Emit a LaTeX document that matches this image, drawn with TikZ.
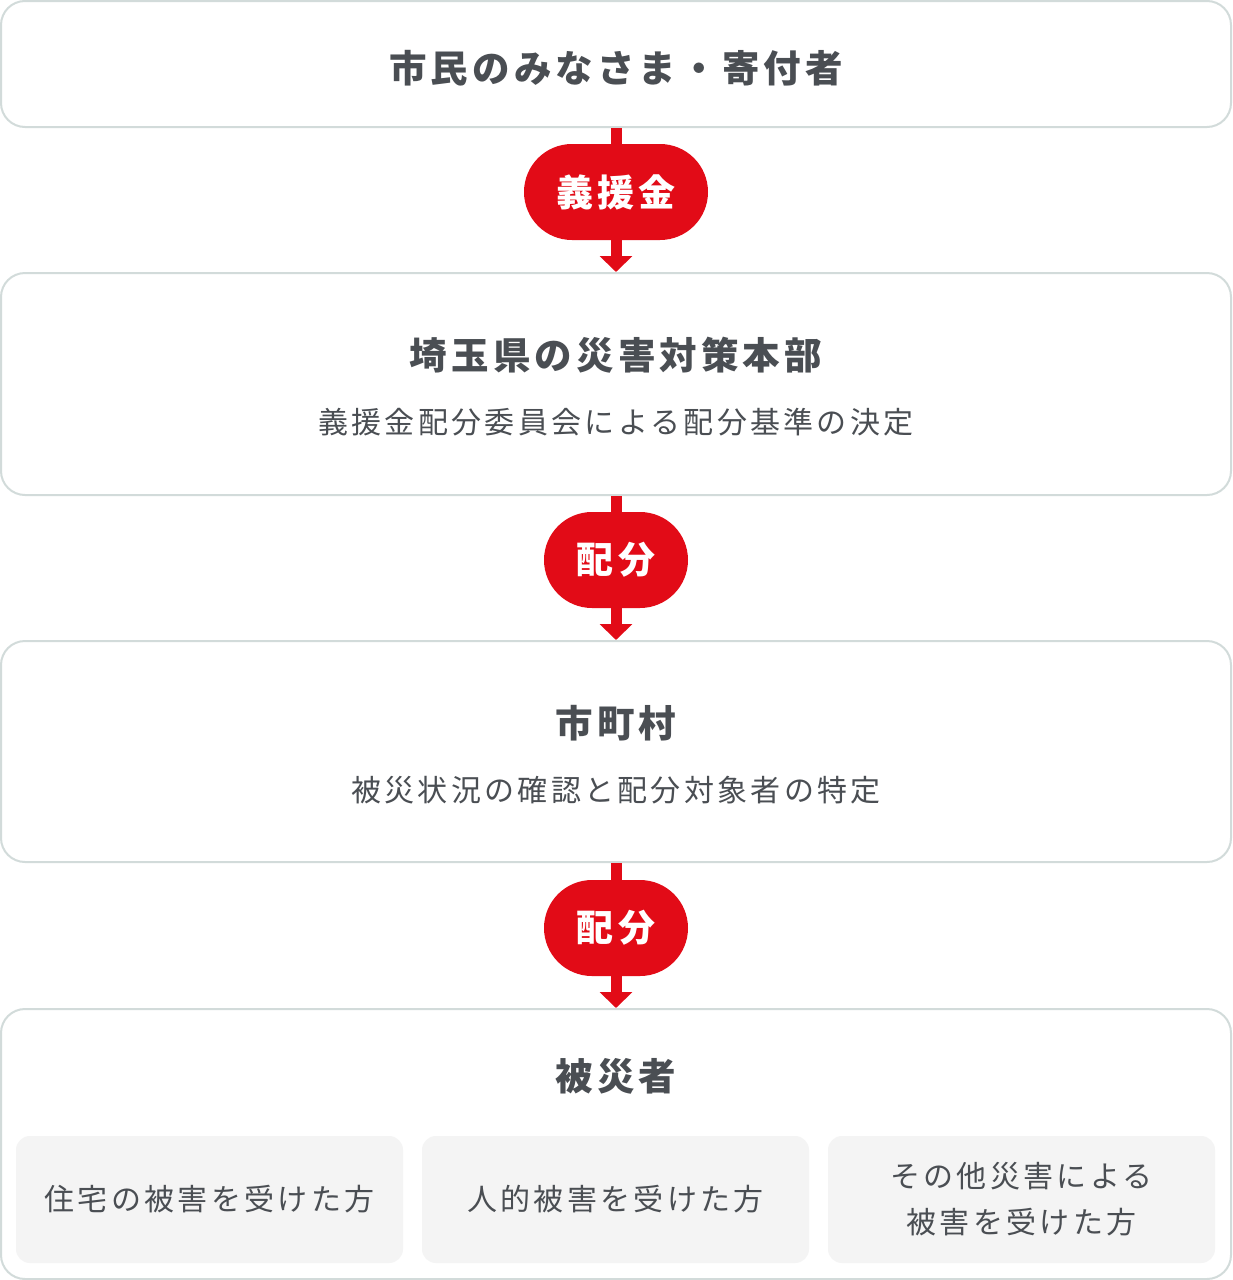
\documentclass[tikz,border=0pt]{standalone}
\usepackage{fontspec}
\usetikzlibrary{arrows.meta}
\newfontfamily\jpfont{Noto Sans CJK JP}[LetterSpace=11]

\definecolor{ink}{HTML}{4A4E53}
\definecolor{brand}{HTML}{E20B17}
\definecolor{edge}{HTML}{D2DBDA}
\definecolor{shade}{HTML}{F4F4F4}

\tikzset{
  panel/.style={draw=edge, line width=2pt, rounded corners=24pt, fill=white,
    minimum width=1230pt, inner sep=0pt},
  case/.style={fill=shade, rounded corners=14pt, minimum width=387pt,
    minimum height=127pt, inner sep=0pt, text=ink, align=center,
    font=\jpfont\fontsize{30}{46}\selectfont},
  head/.style={text=ink, inner sep=0pt, font=\jpfont\bfseries\fontsize{37.5}{40}\selectfont},
  note/.style={text=ink, inner sep=0pt, font=\jpfont\fontsize{30}{34}\selectfont},
  tag/.style={fill=brand, text=white, rounded corners=48pt, minimum height=96pt,
    inner sep=0pt, font=\jpfont\bfseries\fontsize{37}{40}\selectfont},
  flow/.style={draw=brand, line width=11pt, -{Triangle[width=32pt,length=16pt]}},
}

\begin{document}
\begin{tikzpicture}[x=1pt,y=-1pt]
    \useasboundingbox (0,0) rectangle (1232,1280);

    % Panels
    \node[panel, minimum height=126pt] (donors) at (616,64) {};
    \node[panel, minimum height=222pt] (pref) at (616,384) {};
    \node[panel, minimum height=221pt] (city) at (616,751.5) {};
    \node[panel, minimum height=270pt] (victims) at (616,1144) {};

    % Panel texts
    \node[head] (donorsT) at (616,68) {市民のみなさま・寄付者};
    \node[head] (prefT) at (616,355) {埼玉県の災害対策本部};
    \node[note] (prefS) at (616,422) {義援金配分委員会による配分基準の決定};
    \node[head] (cityT) at (616,723) {市町村};
    \node[note] (cityS) at (616,790) {被災状況の確認と配分対象者の特定};
    \node[head] (victimsT) at (616,1076) {被災者};

    % Kinds of victims
    \node[case] (house) at (209.5,1199.5) {住宅の被害を受けた方};
    \node[case] (person) at (615.5,1199.5) {人的被害を受けた方};
    \node[case] (other) at (1021.5,1199.5) {その他災害による\\被害を受けた方};

    % Flow arrows
    \draw[flow] (donors.south) -- (pref.north);
    \draw[flow] (pref.south) -- (city.north);
    \draw[flow] (city.south) -- (victims.north);

    % Labels on the arrows
    \node[tag, minimum width=184pt] (gift) at (616,192) {義援金};
    \node[tag, minimum width=144pt] (share1) at (616,560) {配分};
    \node[tag, minimum width=144pt] (share2) at (616,928) {配分};
\end{tikzpicture}
\end{document}
